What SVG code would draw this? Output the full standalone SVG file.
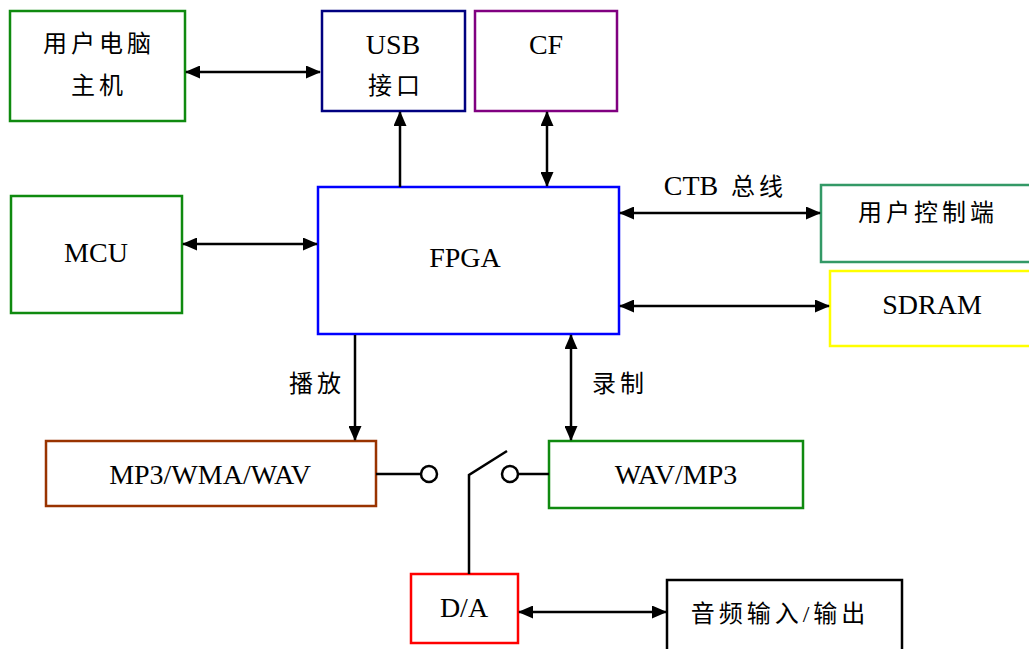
<svg xmlns="http://www.w3.org/2000/svg" width="1029" height="649" viewBox="0 0 1029 649">
<style>
.box{fill:#fff;stroke-width:2.5}
.t{font-family:"Liberation Serif","Noto Sans CJK SC",serif;font-size:28px;fill:#000;text-anchor:middle}
.c{font-family:"Liberation Serif","Noto Sans CJK SC",serif;font-size:24px;fill:#000;text-anchor:middle;letter-spacing:4px}
.ln{stroke:#000;stroke-width:2.5;fill:none}
</style>
<defs>
<marker id="a" markerUnits="userSpaceOnUse" markerWidth="15" markerHeight="13" refX="14" refY="6.5" orient="auto-start-reverse">
<path d="M0,0 L15,6.5 L0,13 z" fill="#000"/>
</marker>
</defs>
<rect width="1029" height="649" fill="#fff"/>
<g id="pc"><rect class="box" x="10" y="11" width="175" height="110" stroke="#0f8a0f"/><text class="c" x="99" y="52">用户电脑</text><text class="c" x="99" y="94">主机</text></g>
<g id="usb"><rect class="box" x="322" y="11" width="143" height="100" stroke="#000080"/><text class="t" x="393" y="54">USB</text><text class="c" x="396" y="94">接口</text></g>
<g id="cf"><rect class="box" x="475" y="11" width="142" height="100" stroke="#800080"/><text class="t" x="546" y="54">CF</text></g>
<g id="mcu"><rect class="box" x="11" y="196" width="171" height="117" stroke="#0f8a0f"/><text class="t" x="96" y="262">MCU</text></g>
<g id="fpga"><rect class="box" x="318" y="187" width="301" height="147" stroke="#0000ff"/><text class="t" x="465" y="267">FPGA</text></g>
<g id="ctrl"><rect class="box" x="821" y="185" width="212" height="77" stroke="#339966"/><text class="c" x="928" y="221">用户控制端</text></g>
<g id="sdram"><rect class="box" x="830" y="271" width="203" height="75" stroke="#ffff00"/><text class="t" x="932" y="314">SDRAM</text></g>
<g id="mp3"><rect class="box" x="46" y="441" width="330" height="65" stroke="#993300"/><text class="t" x="210" y="484">MP3/WMA/WAV</text></g>
<g id="wav"><rect class="box" x="549" y="441" width="254" height="67" stroke="#0f8a0f"/><text class="t" x="676" y="484">WAV/MP3</text></g>
<g id="da"><rect class="box" x="411" y="574" width="107" height="69" stroke="#ff0000"/><text class="t" x="464" y="617">D/A</text></g>
<g id="audio"><rect class="box" x="667" y="580" width="235" height="75" stroke="#000"/><text class="c" x="780" y="622">音频输入/输出</text></g>
<g id="connectors">
<line class="ln" x1="186" y1="72" x2="320" y2="72" marker-start="url(#a)" marker-end="url(#a)"/>
<line class="ln" x1="400" y1="187" x2="400" y2="112" marker-end="url(#a)"/>
<line class="ln" x1="547" y1="112" x2="547" y2="186" marker-start="url(#a)" marker-end="url(#a)"/>
<line class="ln" x1="183" y1="244" x2="317" y2="244" marker-start="url(#a)" marker-end="url(#a)"/>
<line class="ln" x1="620" y1="213" x2="820" y2="213" marker-start="url(#a)" marker-end="url(#a)"/>
<line class="ln" x1="620" y1="306" x2="829" y2="306" marker-start="url(#a)" marker-end="url(#a)"/>
<line class="ln" x1="355" y1="335" x2="355" y2="440" marker-end="url(#a)"/>
<line class="ln" x1="571" y1="335" x2="571" y2="440" marker-start="url(#a)" marker-end="url(#a)"/>
<line class="ln" x1="376" y1="474" x2="421" y2="474"/>
<circle class="ln" cx="429" cy="474" r="8" stroke-width="3"/>
<circle class="ln" cx="510" cy="474" r="8" stroke-width="3"/>
<line class="ln" x1="518" y1="474" x2="549" y2="474"/>
<polyline class="ln" points="507,451 469,475 469,574"/>
<line class="ln" x1="519" y1="612" x2="666" y2="612" marker-start="url(#a)" marker-end="url(#a)"/>
<text class="t" x="691" y="195">CTB</text>
<text class="c" x="759" y="195">总线</text>
<text class="c" x="317" y="392">播放</text>
<text class="c" x="620" y="392">录制</text>
</g>
</svg>
